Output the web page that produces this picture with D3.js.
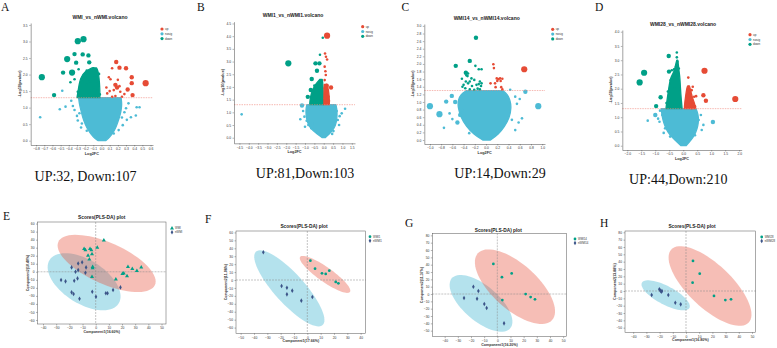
<!DOCTYPE html>
<html>
<head>
<meta charset="utf-8">
<script src="https://cdn.jsdelivr.net/npm/d3@7"></script>
<style>
body { margin: 0; background: #fff; }
svg text { font-family: "Liberation Sans", Arial, sans-serif; }
</style>
</head>
<body>
<svg id="fig" width="777" height="348"></svg>
<script>

// ---------- volcano data: [log2FC, -log10(p), vip-ish size class] ----------
var A_up = [[0.18,2.38,2],[0.13,2.19,1],[0.22,2.21,2],[0.30,2.19,2],[0.09,1.92,1],[0.11,1.86,1],[0.20,1.84,1],[0.37,1.92,2],[0.54,1.74,3],[0.17,1.69,2],[0.19,1.61,2],[0.22,1.65,1],[0.37,1.74,2],[0.32,1.55,2],[0.15,1.53,1],[0.23,1.48,1],[0.38,1.38,2],[0.28,1.41,1],[0.13,1.33,1],[0.17,1.35,1],[0.06,1.61,1],[0.07,1.43,1],[0.25,1.33,1],[0.10,1.50,1]];
var A_down = [[-0.29,3.01,3],[-0.22,3.07,3],[-0.33,2.62,2],[-0.23,2.61,2],[-0.16,2.58,2],[-0.42,2.47,3],[-0.31,2.36,2],[-0.15,2.37,2],[-0.47,2.06,2],[-0.36,2.06,3],[-0.28,2.16,1],[-0.73,1.92,3],[-0.58,1.38,2],[-0.10,2.19,1],[-0.06,2.12,1],[-0.38,1.77,1],[-0.33,1.86,1],[-0.26,1.63,1],[-0.29,1.48,1],[-0.23,1.38,1],[-0.03,2.02,1],[-0.18,2.12,1],[-0.12,2.05,1],[-0.20,1.95,1],[-0.08,1.90,1],[-0.14,1.80,1],[-0.04,1.75,1],[-0.24,1.78,1],[-0.18,1.68,1],[-0.10,1.60,1],[-0.05,1.50,1],[-0.21,1.52,1],[-0.15,1.42,1],[-0.08,1.36,1],[-0.27,1.33,1],[-0.12,1.55,1],[-0.02,1.40,1]];
var A_nosig = [[-0.75,0.71,1],[-0.48,1.51,1],[-0.51,0.95,1],[-0.44,1.03,1],[-0.37,1.21,1],[-0.33,0.93,1],[-0.27,0.83,1],[-0.29,0.61,1],[-0.25,0.40,1],[-0.24,0.52,1],[-0.18,0.30,1],[0.33,1.13,1],[0.43,1.01,1],[0.465,1.01,1],[0.42,0.76,1],[0.36,0.71,1],[0.31,0.63,1],[0.28,0.86,1],[0.26,0.47,1],[0.21,0.32,1],[0.15,0.22,1],[-0.35,1.05,1],[0.30,0.98,1],[-0.30,0.75,1],[0.25,0.70,1]];
// dense clouds: [-log10(p), left log2FC, right log2FC]
var A_nosigBand = [[0,-0.04,0.05],[0.1,-0.10,0.10],[0.3,-0.16,0.16],[0.5,-0.20,0.19],[0.7,-0.23,0.22],[0.9,-0.25,0.24],[1.1,-0.27,0.25],[1.3,-0.28,0.24]];
var A_downBand = [[1.3,-0.30,-0.02],[1.6,-0.28,-0.02],[1.9,-0.26,-0.03],[2.1,-0.20,-0.04],[2.2,-0.12,-0.06]];
var A_upBand = [];

var B_up = [[0.18,4.02,3],[0.07,3.32,1],[0.12,3.19,1],[0.18,3.08,1],[0.05,2.80,1],[0.09,2.62,1],[0.11,2.47,1],[0.05,2.27,1],[0.16,2.05,2],[0.39,1.98,2],[0.05,1.95,1],[0.22,1.85,1],[0.12,1.75,1],[0.25,1.62,1],[0.18,1.48,1],[0.06,1.55,1],[0.10,1.38,1],[0.22,1.35,1],[0.28,1.45,1]];
var B_down = [[-0.05,3.94,1],[-0.20,3.27,1],[-0.44,2.93,2],[-0.23,2.93,2],[-1.89,2.93,3],[-0.36,2.64,2],[-0.64,2.31,2],[-0.16,2.23,1],[-0.36,2.03,2],[-0.69,1.88,2],[-0.85,1.61,2],[-0.55,1.75,1],[-0.30,2.10,1],[-0.10,2.00,1],[-0.45,1.50,1],[-0.60,1.40,1],[-0.25,1.85,1],[-0.50,2.05,1],[-0.12,1.55,1]];
var B_nosig = [[-4.38,0.92,1],[-1.16,1.27,2],[-1.25,0.73,1],[-1.03,0.83,1],[-0.91,0.67,1],[-0.82,0.50,1],[-1.00,0.43,1],[-0.66,0.37,1],[-0.60,0.56,1],[0.60,1.25,1],[0.69,1.05,1],[1.14,1.14,1],[0.96,0.96,1],[0.75,0.70,1],[0.82,0.50,1],[0.52,0.26,1],[-1.10,1.05,1],[0.85,0.85,1],[-0.85,1.10,1],[0.45,0.15,1]];
var B_nosigBand = [[0,-0.08,0.08],[0.15,-0.35,0.30],[0.35,-0.70,0.55],[0.6,-0.88,0.68],[0.9,-0.95,0.72],[1.15,-0.95,0.70],[1.3,-0.90,0.65]];
var B_downBand = [[1.3,-0.75,-0.02],[1.6,-0.72,-0.02],[1.9,-0.60,-0.03],[2.15,-0.40,-0.05],[2.3,-0.20,-0.08]];
var B_upBand = [[1.3,0.01,0.30],[1.6,0.01,0.30],[1.9,0.02,0.25],[2.1,0.03,0.18]];

var C_up = [[0.13,1.99,1],[0.14,1.89,1],[0.68,1.86,3],[0.19,1.62,1],[0.22,1.60,1],[0.25,1.62,1],[0.29,1.61,1],[0.20,1.55,1],[0.26,1.55,1],[0.08,1.49,1],[0.16,1.49,1],[0.17,1.39,1],[0.27,1.39,1],[0.29,1.33,1]];
var C_down = [[-0.18,2.69,2],[-0.29,2.08,2],[-0.54,1.95,2],[-0.19,1.95,1],[-0.13,1.86,1],[-0.08,1.86,1],[-0.36,1.77,2],[-0.32,1.75,1],[-0.33,1.68,1],[-0.43,1.61,1],[-0.26,1.62,1],[-0.21,1.58,1],[-0.36,1.54,1],[-0.32,1.49,1],[-0.29,1.54,1],[-0.11,1.54,1],[-0.08,1.49,1],[-0.17,1.45,1],[-0.13,1.47,1],[-0.42,1.40,1],[-0.37,1.36,1],[-0.29,1.33,1],[-0.21,1.32,1],[-0.09,1.42,1],[-0.11,1.33,1],[-0.25,1.42,1],[-0.35,1.70,1],[-0.40,1.45,1],[-0.15,1.35,1]];
var C_nosig = [[-1.00,0.89,3],[-0.83,0.68,3],[-0.75,0.32,1],[-0.71,1.01,2],[-0.61,1.16,2],[-0.65,0.70,1],[-0.51,0.46,2],[-0.46,0.66,2],[-0.43,0.79,1],[-0.30,0.18,1],[0.43,1.32,1],[0.52,1.14,1],[0.60,1.08,1],[0.70,1.27,2],[0.93,0.89,3],[0.64,0.57,1],[0.58,0.46,1],[0.52,0.26,1],[0.46,0.53,1],[-0.55,1.00,2],[0.55,0.95,1],[-0.60,0.55,1]];
var C_nosigBand = [[0,-0.06,0.08],[0.15,-0.22,0.22],[0.35,-0.35,0.33],[0.6,-0.45,0.42],[0.85,-0.50,0.45],[1.05,-0.50,0.43],[1.2,-0.45,0.38],[1.3,-0.35,0.30]];
var C_downBand = [];
var C_upBand = [];

var D_up = [[0.76,2.63,3],[0.18,2.39,1],[0.34,2.07,1],[0.30,1.95,1],[0.24,1.89,1],[0.18,1.84,1],[0.72,1.77,2],[0.81,1.58,2],[1.86,1.64,3],[0.39,1.72,1],[0.46,1.74,1],[0.12,1.55,1],[0.25,1.50,1],[0.35,1.45,1],[0.42,1.38,1],[0.15,1.35,1],[0.30,1.32,1]];
var D_down = [[-1.40,2.56,3],[-1.56,2.22,3],[-0.81,1.70,2],[-0.97,1.39,2],[-0.52,3.15,2],[-0.23,3.27,1],[-0.23,3.10,1],[-0.21,2.95,1],[-0.26,2.77,1],[-0.51,2.60,2],[-0.41,2.65,1],[-0.33,2.68,1],[-0.16,2.71,1],[-0.45,2.30,1],[-0.20,2.40,1],[-0.55,1.90,1],[-0.30,2.00,1],[-0.60,1.50,1],[-0.15,1.60,1],[-0.40,1.40,1]];
var D_nosig = [[-1.27,0.88,1],[-1.00,1.08,2],[-0.83,1.23,1],[-0.75,1.08,1],[-0.85,0.84,1],[-0.65,0.61,1],[-0.47,0.32,1],[0.63,1.08,1],[1.06,0.83,2],[0.72,0.73,1],[0.66,0.55,1],[0.42,0.37,1],[-0.90,0.95,1],[0.55,0.90,1],[-0.70,0.45,1]];
var D_nosigBand = [[0,-0.08,0.10],[0.2,-0.30,0.28],[0.4,-0.50,0.42],[0.6,-0.62,0.50],[0.8,-0.70,0.54],[1.0,-0.75,0.55],[1.2,-0.78,0.50],[1.3,-0.78,0.45]];
var D_downBand = [[1.3,-0.62,-0.04],[1.6,-0.58,-0.07],[2.0,-0.52,-0.10],[2.4,-0.46,-0.12],[2.6,-0.32,-0.15],[2.9,-0.26,-0.18],[3.0,-0.23,-0.20]];
var D_upBand = [[1.3,0.04,0.45],[1.5,0.05,0.40],[1.7,0.08,0.32],[2.0,0.12,0.25],[2.1,0.16,0.22]];

var volcanoTitles = ["WMI_vs_nWMI.volcano","WMI1_vs_nWMI1.volcano","WMI14_vs_nWMI14.volcano","WMI28_vs_nWMI28.volcano"];
var volcanoCounts = ["UP:32, Down:107","UP:81,Down:103","UP:14,Down:29","UP:44,Down:210"];
var A_xTicks = [-0.8,-0.7,-0.6,-0.5,-0.4,-0.3,-0.2,-0.1,0,0.1,0.2,0.3,0.4,0.5,0.6];
var A_yTicks = [0,0.5,1,1.5,2,2.5,3,3.5];
var B_xTicks = [-4.5,-4,-3.5,-3,-2.5,-2,-1.5,-1,-0.5,0,0.5,1,1.5];
var B_yTicks = [0,0.5,1,1.5,2,2.5,3,3.5,4,4.5];
var C_xTicks = [-1,-0.8,-0.6,-0.4,-0.2,0,0.2,0.4,0.6,0.8,1];
var C_yTicks = [0,0.2,0.4,0.6,0.8,1,1.2,1.4,1.6,1.8,2,2.2,2.4,2.6,2.8,3];
var D_xTicks = [-2,-1.5,-1,-0.5,0,0.5,1,1.5,2];
var D_yTicks = [0,0.5,1,1.5,2,2.5,3,3.5,4];
var pThreshold = 1.301;   // -log10(0.05)

// ---------- PLS-DA score data: [component1, component2] ----------
var E_case = [[6.2,39.3],[1.2,30.2],[-8.8,28.5],[-7.8,26.9],[-4.3,28.5],[-3.3,26.9],[-2.8,22],[-5.8,20.3],[-4.8,15.4],[-2.3,6.2],[-2.3,4.6],[-2.8,-6.2],[24.5,6.2],[27.8,3.7],[31.3,1.2],[34.6,5.5],[21.3,-2],[23.8,-5.3],[20.3,-2.5],[15.3,-9.4]];
var E_ctrl = [[-18.3,5.5],[-13.3,10.4],[-10.3,12],[-15.3,0],[-13.3,2.1],[-7.3,5.5],[-7.8,-1.2],[-13.8,-8.2],[-26.3,-10.3],[-22.9,-11.9],[-16.3,-11.2],[-18.3,-25.6],[-16.8,-27.7],[-12.3,-33.5],[-2.6,-24.8],[0.2,-31],[7.7,-26.8],[9,-26.8],[13.2,-22.7],[18.8,-19.4]];
var F_case = [[2.3,24.4],[5.8,14.3],[11,8.4],[13.8,7.6],[16.5,11.8],[21.3,-2.5],[23.3,-4.2]];
var F_ctrl = [[-33,34.9],[-19.3,-7.6],[-15.3,-9.7],[-15.3,-18.1],[-11.3,-13.4],[-4.5,-26],[3.8,-21.4]];
var G_case = [[-3,41],[3.5,23],[10.9,28],[21.5,0],[25.3,-4.1],[28.6,-7.3],[3.8,-8.2]];
var G_ctrl = [[-25.3,-5.5],[-18.2,10],[-14.4,4.1],[-15.4,-6.4],[-9.9,-13.6],[-8.1,-19.1],[5.1,-40]];
var H_case = [[5.3,41],[10.4,23.6],[5,11.4],[21.2,-6.8],[29.8,-12.3],[34.1,-11.4]];
var H_ctrl = [[-26,-5.5],[-20.2,2.3],[-19.4,0.5],[-18.7,-0.9],[-18.2,0],[-13.4,-5.5],[-8.1,-15.9],[-4,-18.2]];
// confidence ellipses: [cx, cy, u_x, u_y, v_x, v_y] (conjugate semi-axes)
var E_ellCase = [8.3,10.4,36.7,-26.8,6.3,23.5];
var E_ellCtrl = [-8.8,-12.4,26.3,-26.9,8.7,23.2];
var F_ellCase = [13.3,7.1,18.7,-22.1,3.1,7.5];
var F_ellCtrl = [-13.5,-10.5,25,-46.3,8.3,12.7];
var G_ellCase = [13.4,10,28.2,-45.5,11.5,22.8];
var G_ellCtrl = [-12.4,-12.7,22.2,-34.1,8.7,18.3];
var H_ellCase = [18.2,6.8,29.3,-49.9,11.3,21.5];
var H_ellCtrl = [-15.4,-5.9,18,-17.2,3.3,11.1];
var plsGroups = [["WMI","nWMI"],["WMI1","nWMI1"],["WMI14","nWMI14"],["WMI28","nWMI28"]];
var plsXLabels = ["Component1(16.60%)","Component1(17.66%)","Component1(16.20%)","Component1(16.80%)"];
var plsYLabels = ["Component2(10.40%)","Component2(11.08%)","Component2(11.37%)","Component2(13.88%)"];
var E_xTicks = [-40,-30,-20,-10,0,10,20,30,40,50], E_yTicks = [-60,-50,-40,-30,-20,-10,0,10,20,30,40,50,60];
var F_xTicks = [-50,-40,-30,-20,-10,0,10,20,30,40], F_yTicks = [-60,-50,-40,-30,-20,-10,0,10,20,30,40,50,60];
var G_xTicks = [-40,-30,-20,-10,0,10,20,30,40,50], G_yTicks = [-50,-40,-30,-20,-10,0,10,20,30,40,50,60,70,80];
var H_xTicks = [-40,-30,-20,-10,0,10,20,30,40,50], H_yTicks = [-50,-40,-30,-20,-10,0,10,20,30,40,50,60,70,80];

var panelLetters = ["A","B","C","D","E","F","G","H"];

var cRed = "#E64B35", cBlue = "#4DBBD5", cGreen = "#00A087", cNavy = "#3C5488";
var svg = d3.select("#fig");

function styleAxis(ax) {
   ax.select(".domain").attr("stroke", "#444").attr("stroke-width", 0.5);
   ax.selectAll(".tick line").attr("stroke", "#444").attr("stroke-width", 0.4);
   ax.selectAll(".tick text").attr("font-size", 3.3).attr("fill", "#333").attr("font-family", "Liberation Sans");
}

function volcano(p) {
   var x = d3.scaleLinear().domain(p.xDom).range([p.left, p.right]);
   var y = d3.scaleLinear().domain(p.yDom).range([p.bottom, p.top]);
   var r = d3.scaleLinear().domain([1, 3]).range([1.3, 3.1]);
   var g = svg.append("g");

   var band = d3.area().curve(d3.curveBasis)
      .y(function(d){ return y(d[0]); })
      .x0(function(d){ return x(d[1]); })
      .x1(function(d){ return x(d[2]); });

   var layers = [[p.nosigBand, p.nosig, cBlue], [p.downBand, p.down, cGreen], [p.upBand, p.up, cRed]];
   layers.forEach(function(l) {
      if (l[0].length) {
         g.append("path").datum(l[0]).attr("d", band)
          .attr("fill", l[2]).attr("stroke", l[2]).attr("stroke-width", 1.3).attr("stroke-linejoin", "round");
      }
      g.selectAll(null).data(l[1]).enter().append("circle")
       .attr("cx", function(d){ return x(d[0]); })
       .attr("cy", function(d){ return y(d[1]); })
       .attr("r", function(d){ return r(d[2]); })
       .attr("fill", l[2]);
   });

   g.append("line")
    .attr("x1", p.left).attr("x2", p.right)
    .attr("y1", y(pThreshold)).attr("y2", y(pThreshold))
    .attr("stroke", "#f08a80").attr("stroke-width", 0.6).attr("stroke-dasharray", "1.5,1");

   var xa = g.append("g").attr("transform", "translate(0," + p.bottom + ")")
      .call(d3.axisBottom(x).tickValues(p.xTicks).tickSize(1.5).tickSizeOuter(0).tickPadding(1.5));
   var ya = g.append("g").attr("transform", "translate(" + p.left + ",0)")
      .call(d3.axisLeft(y).tickValues(p.yTicks).tickSize(1.5).tickSizeOuter(0).tickPadding(1.5));
   styleAxis(xa); styleAxis(ya);

   g.append("text").attr("x", (p.left + p.right) / 2).attr("y", p.bottom + 10)
    .attr("text-anchor", "middle").attr("font-size", 3.8).attr("font-weight", "bold").attr("fill", "#333")
    .text("Log2FC");
   g.append("text").attr("transform", "translate(" + (p.left - 10) + "," + ((p.top + p.bottom) / 2) + ") rotate(-90)")
    .attr("text-anchor", "middle").attr("font-size", 3.8).attr("font-weight", "bold").attr("fill", "#333")
    .text("-Log10(pvalue)");
   g.append("text").attr("x", p.titleX).attr("y", p.titleY)
    .attr("text-anchor", "middle").attr("font-size", 5).attr("font-weight", "bold").attr("fill", "#222")
    .text(p.title);

   var leg = g.selectAll(".leg").data([["up", cRed], ["nosig", cBlue], ["down", cGreen]]).enter().append("g")
      .attr("transform", function(d, i){ return "translate(" + p.legX + "," + (p.legY + i * 4.8) + ")"; });
   leg.append("circle").attr("r", 1.6).attr("fill", function(d){ return d[1]; });
   leg.append("text").attr("x", 3).attr("y", 1.1).attr("font-size", 3).attr("fill", "#333").text(function(d){ return d[0]; });
}

function ellipsePts(e) {
   var pts = [];
   for (var k = 0; k < 72; k++) {
      var t = k / 72 * 2 * Math.PI;
      pts.push([e[0] + e[2] * Math.cos(t) + e[4] * Math.sin(t), e[1] + e[3] * Math.cos(t) + e[5] * Math.sin(t)]);
   }
   return pts;
}

function pls(p) {
   var x = d3.scaleLinear().domain(p.xDom).range([p.left, p.right]);
   var y = d3.scaleLinear().domain(p.yDom).range([p.bottom, p.top]);
   var g = svg.append("g");
   var line = d3.line().curve(d3.curveLinearClosed)
      .x(function(d){ return x(d[0]); }).y(function(d){ return y(d[1]); });

   g.append("path").datum(ellipsePts(p.ellCtrl)).attr("d", line).attr("fill", cBlue).attr("fill-opacity", 0.42);
   g.append("path").datum(ellipsePts(p.ellCase)).attr("fill", cRed).attr("d", line).attr("fill-opacity", 0.36);

   g.append("line").attr("x1", x(0)).attr("x2", x(0)).attr("y1", p.top).attr("y2", p.bottom)
    .attr("stroke", "#888").attr("stroke-width", 0.5).attr("stroke-dasharray", "2,1");
   g.append("line").attr("x1", p.left).attr("x2", p.right).attr("y1", y(0)).attr("y2", y(0))
    .attr("stroke", "#888").attr("stroke-width", 0.5).attr("stroke-dasharray", "2,1");

   var caseSym = d3.symbol().type(p.caseShape).size(p.caseShape === d3.symbolTriangle ? 7 : 6);
   var ctrlSym = d3.symbol().type(d3.symbolDiamond).size(6);

   g.selectAll(null).data(p.ctrl).enter().append("path")
    .attr("transform", function(d){ return "translate(" + x(d[0]) + "," + y(d[1]) + ")"; })
    .attr("d", ctrlSym).attr("fill", cNavy);
   g.selectAll(null).data(p.caseD).enter().append("path")
    .attr("transform", function(d){ return "translate(" + x(d[0]) + "," + y(d[1]) + ")"; })
    .attr("d", caseSym).attr("fill", cGreen);

   g.append("rect").attr("x", p.left).attr("y", p.top)
    .attr("width", p.right - p.left).attr("height", p.bottom - p.top)
    .attr("fill", "none").attr("stroke", "#555").attr("stroke-width", 0.5);

   var xa = g.append("g").attr("transform", "translate(0," + p.bottom + ")")
      .call(d3.axisBottom(x).tickValues(p.xTicks).tickSize(1.5).tickSizeOuter(0).tickPadding(1.5));
   var ya = g.append("g").attr("transform", "translate(" + p.left + ",0)")
      .call(d3.axisLeft(y).tickValues(p.yTicks).tickSize(1.5).tickSizeOuter(0).tickPadding(1.5));
   styleAxis(xa); styleAxis(ya);
   xa.select(".domain").remove(); ya.select(".domain").remove();

   g.append("text").attr("x", (p.left + p.right) / 2).attr("y", p.bottom + 9)
    .attr("text-anchor", "middle").attr("font-size", 3.6).attr("font-weight", "bold").attr("fill", "#333")
    .text(p.xLabel);
   g.append("text").attr("transform", "translate(" + (p.left - 9) + "," + ((p.top + p.bottom) / 2) + ") rotate(-90)")
    .attr("text-anchor", "middle").attr("font-size", 3.6).attr("font-weight", "bold").attr("fill", "#333")
    .text(p.yLabel);
   g.append("text").attr("x", p.titleX).attr("y", p.titleY)
    .attr("text-anchor", "middle").attr("font-size", 4.8).attr("font-weight", "bold").attr("fill", "#222")
    .text("Scores(PLS-DA) plot");

   var leg = g.selectAll(".leg").data([[p.groups[0], caseSym, cGreen], [p.groups[1], ctrlSym, cNavy]]).enter().append("g")
      .attr("transform", function(d, i){ return "translate(" + p.legX + "," + (p.legY + i * 4) + ")"; });
   leg.append("path").attr("d", function(d){ return d[1](); }).attr("fill", function(d){ return d[2]; });
   leg.append("text").attr("x", 3).attr("y", 1).attr("font-size", 2.8).attr("fill", "#333").text(function(d){ return d[0]; });
}

volcano({left:30.7, right:153, top:23, bottom:145, xDom:[-0.866,0.63], yDom:[-0.13,3.56], xTicks:A_xTicks, yTicks:A_yTicks,
   up:A_up, down:A_down, nosig:A_nosig, nosigBand:A_nosigBand, downBand:A_downBand, upBand:A_upBand,
   title:volcanoTitles[0], titleX:100, titleY:19, legX:162, legY:29});
volcano({left:234, right:355, top:21.7, bottom:143.3, xDom:[-4.79,1.67], yDom:[-0.22,4.57], xTicks:B_xTicks, yTicks:B_yTicks,
   up:B_up, down:B_down, nosig:B_nosig, nosigBand:B_nosigBand, downBand:B_downBand, upBand:B_upBand,
   title:volcanoTitles[1], titleX:293, titleY:17, legX:362.7, legY:26.7});
volcano({left:424.3, right:545, top:24, bottom:144, xDom:[-1.10,1.05], yDom:[-0.105,3.05], xTicks:C_xTicks, yTicks:C_yTicks,
   up:C_up, down:C_down, nosig:C_nosig, nosigBand:C_nosigBand, downBand:C_downBand, upBand:C_upBand,
   title:volcanoTitles[2], titleX:486.7, titleY:20, legX:552.7, legY:29.3});
volcano({left:622.3, right:741.7, top:30, bottom:150, xDom:[-2.18,2.09], yDom:[-0.15,4.06], xTicks:D_xTicks, yTicks:D_yTicks,
   up:D_up, down:D_down, nosig:D_nosig, nosigBand:D_nosigBand, downBand:D_downBand, upBand:D_upBand,
   title:volcanoTitles[3], titleX:683, titleY:25.5, legX:750, legY:34.7});

pls({left:37.5, right:166, top:222, bottom:324, xDom:[-44.2,53.4], yDom:[-65,62], xTicks:E_xTicks, yTicks:E_yTicks,
   caseD:E_case, ctrl:E_ctrl, ellCase:E_ellCase, ellCtrl:E_ellCtrl, caseShape:d3.symbolTriangle,
   groups:plsGroups[0], xLabel:plsXLabels[0], yLabel:plsYLabels[0], titleX:101.7, titleY:218.5, legX:172, legY:228.3});
pls({left:236, right:365.7, top:231, bottom:333.3, xDom:[-53.5,43.8], yDom:[-67.2,61.8], xTicks:F_xTicks, yTicks:F_yTicks,
   caseD:F_case, ctrl:F_ctrl, ellCase:F_ellCase, ellCtrl:F_ellCtrl, caseShape:d3.symbolCircle,
   groups:plsGroups[1], xLabel:plsXLabels[1], yLabel:plsYLabels[1], titleX:304, titleY:228, legX:370, legY:236.7});
pls({left:432.3, right:566.7, top:233.3, bottom:336.7, xDom:[-49.4,52.7], yDom:[-58.2,82.8], xTicks:G_xTicks, yTicks:G_yTicks,
   caseD:G_case, ctrl:G_ctrl, ellCase:G_ellCase, ellCtrl:G_ellCtrl, caseShape:d3.symbolCircle,
   groups:plsGroups[2], xLabel:plsXLabels[2], yLabel:plsYLabels[2], titleX:498.3, titleY:231.5, legX:575, legY:239});
pls({left:625, right:755.7, top:231, bottom:332.3, xDom:[-46.2,52.8], yDom:[-56.3,81.8], xTicks:H_xTicks, yTicks:H_yTicks,
   caseD:H_case, ctrl:H_ctrl, ellCase:H_ellCase, ellCtrl:H_ellCtrl, caseShape:d3.symbolCircle,
   groups:plsGroups[3], xLabel:plsXLabels[3], yLabel:plsYLabels[3], titleX:692, titleY:227.5, legX:761.7, legY:237});

// counts under the volcano plots
var countPos = [[85.5,181],[305,178.3],[500,178.3],[678.3,184.3]];
svg.selectAll(".count").data(volcanoCounts).enter().append("text")
   .attr("x", function(d, i){ return countPos[i][0]; })
   .attr("y", function(d, i){ return countPos[i][1]; })
   .attr("text-anchor", "middle").attr("font-size", 14).attr("fill", "#111")
   .style("font-family", "'Liberation Serif', 'Times New Roman', serif")
   .text(function(d){ return d; });

// panel letters
var letterPos = [[1,10.5],[197,10.5],[401.5,10.5],[595,10.5],[3,220],[205,223.3],[405,227],[600,226.7]];
svg.selectAll(".letter").data(panelLetters).enter().append("text")
   .attr("x", function(d, i){ return letterPos[i][0]; })
   .attr("y", function(d, i){ return letterPos[i][1]; })
   .attr("font-size", 11.5).attr("fill", "#111")
   .style("font-family", "'Liberation Serif', 'Times New Roman', serif")
   .text(function(d){ return d; });
</script>
</body>
</html>
